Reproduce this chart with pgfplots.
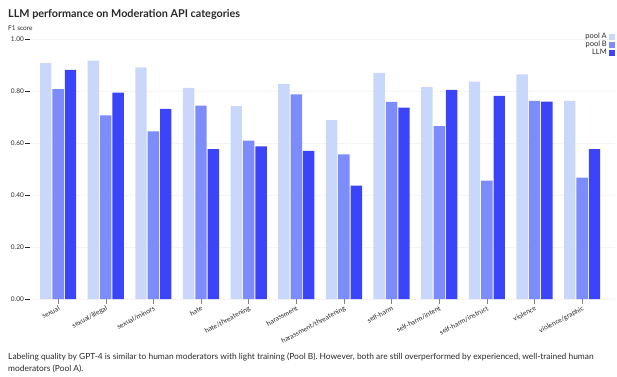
\documentclass[border=0pt]{standalone}
\usepackage{pgfplots}
\pgfplotsset{compat=1.18}
\usepackage{fontspec}
\setmainfont{Lato}
\definecolor{poolA}{RGB}{201,216,250}
\definecolor{poolB}{RGB}{124,140,250}
\definecolor{llm}{RGB}{60,68,250}
\definecolor{gridc}{RGB}{244,244,244}
\definecolor{txt}{RGB}{40,40,40}
\begin{document}
\begin{tikzpicture}
\path[use as bounding box] (0pt,0pt) rectangle (617pt,376pt);
\node[anchor=base west,inner sep=0,font=\fontsize{10.8}{12}\selectfont\bfseries,text=txt] at (8pt,359pt) {LLM performance on Moderation API categories};
\node[anchor=base west,inner sep=0,font=\fontsize{6.5}{7}\selectfont,text=txt] at (8pt,346pt) {F1 score};
\begin{axis}[
  at={(30pt,77pt)}, anchor=south west,
  scale only axis, width=585pt, height=260pt,
  ybar, bar width=0.24,
  xmin=-0.59, xmax=11.69, ymin=0, ymax=1,
  xtick={0,...,11}, tick pos=left,
  xticklabels={sexual,sexual/illegal,sexual/minors,hate,hate/threatening,harassment,harassment/threatening,self-harm,self-harm/intent,self-harm/instruct,violence,violence/graphic},
  xticklabel style={rotate=28, anchor=north east, font=\fontsize{6.8}{8}\selectfont, text=txt, inner sep=1pt, yshift=-0.5pt},
  ytick={0,0.2,0.4,0.6,0.8,1},
  yticklabel style={font=\fontsize{6.5}{7}\selectfont, text=txt, inner sep=1.5pt},
  /pgf/number format/.cd, fixed, fixed zerofill, precision=2, assume math mode=true,
  /pgfplots/.cd,
  tick align=outside, major tick length=4.5pt,
  tick style={draw=txt, line width=0.5pt},
  xtick style={draw=gray, line width=0.4pt},
  axis line style={draw=none},
  ymajorgrids, grid style={draw=gridc, line width=0.5pt},
  legend style={at={(1,1.03)}, anchor=north east, draw=none, fill=none, font=\fontsize{7.5}{7.5}\selectfont, text=txt, row sep=-3pt, inner sep=0pt},
  legend cell align=right, legend plot pos=right,
  legend image code/.code={\fill[#1,draw=none] (0pt,-3pt) rectangle (6pt,3pt);},
]
\addplot[fill=poolA, draw=none, bar shift=-0.26] coordinates {(0,0.907) (1,0.917) (2,0.891) (3,0.812) (4,0.742) (5,0.827) (6,0.688) (7,0.870) (8,0.815) (9,0.836) (10,0.864) (11,0.762)};
\addplot[fill=poolB, draw=none, bar shift=0] coordinates {(0,0.807) (1,0.706) (2,0.645) (3,0.744) (4,0.609) (5,0.787) (6,0.556) (7,0.758) (8,0.665) (9,0.455) (10,0.762) (11,0.467)};
\addplot[fill=llm, draw=none, bar shift=0.26] coordinates {(0,0.881) (1,0.794) (2,0.731) (3,0.576) (4,0.587) (5,0.570) (6,0.436) (7,0.736) (8,0.804) (9,0.781) (10,0.759) (11,0.576)};
\legend{pool A, pool B, LLM}
\end{axis}
\node[anchor=base west,inner sep=0,align=left,font=\fontsize{8.4}{12}\selectfont,text=txt] at (8pt,5pt) {Labeling quality by GPT-4 is similar to human moderators with light training (Pool B). However, both are still overperformed by experienced, well-trained human\\moderators (Pool A).};
\end{tikzpicture}
\end{document}
